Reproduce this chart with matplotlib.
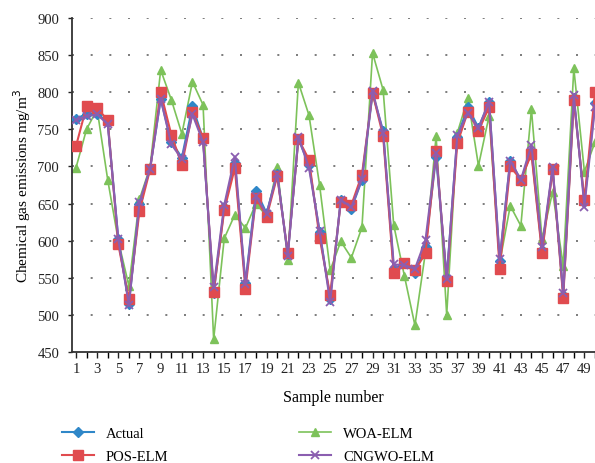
import matplotlib
matplotlib.use("Agg")
import matplotlib.pyplot as plt
import numpy as np

samples = list(range(1, 51))
actual = [764, 771, 771, 760, 602, 515, 650, 697, 791, 733,
          712, 781, 737, 529, 645, 705, 543, 667, 637, 690,
          582, 737, 702, 612, 522, 655, 643, 682, 798, 748,
          562, 570, 557, 592, 713, 550, 740, 780, 752, 787,
          573, 708, 681, 720, 587, 697, 527, 792, 652, 785]
pos_elm = [727, 781, 779, 762, 595, 521, 640, 696, 800, 743,
           702, 773, 738, 531, 641, 698, 535, 658, 632, 687,
           583, 737, 709, 604, 527, 652, 648, 689, 799, 741,
           556, 570, 560, 583, 721, 545, 731, 774, 748, 780,
           562, 700, 682, 717, 583, 696, 523, 789, 655, 800]
woa_elm = [698, 750, 777, 682, 600, 539, 656, 699, 830, 790,
           744, 814, 783, 467, 603, 635, 617, 650, 633, 699,
           574, 813, 769, 675, 560, 599, 577, 618, 853, 803,
           621, 553, 486, 585, 741, 500, 745, 792, 701, 768,
           570, 647, 620, 777, 602, 666, 566, 832, 693, 733]
cngwo_elm = [762, 768, 770, 757, 602, 513, 652, 697, 791, 730,
             710, 770, 733, 537, 648, 713, 542, 660, 636, 690,
             580, 740, 698, 613, 517, 655, 645, 683, 802, 745,
             568, 567, 562, 601, 718, 548, 742, 772, 752, 787,
             575, 708, 682, 729, 592, 699, 529, 796, 646, 780]

c_act = "#2f87c8"
c_pos = "#e04b4f"
c_woa = "#7dc25a"
c_cng = "#8b5eb0"

plt.rcParams['font.family'] = ['Liberation Serif', 'DejaVu Serif']

fig = plt.figure(figsize=(5.95, 4.64), dpi=100)
ax = fig.add_axes([71.7/595, 1-353/464, 1-71.7/595, (353-19)/464])

ax.plot(samples, actual, color=c_act, marker='D', markersize=5, lw=1.5, label='Actual', zorder=3)
ax.plot(samples, pos_elm, color=c_pos, marker='s', markersize=6.5, lw=1.5, label='POS-ELM', zorder=3)
ax.plot(samples, woa_elm, color=c_woa, marker='^', markersize=6, lw=1.2, label='WOA-ELM', zorder=2)
ax.plot(samples, cngwo_elm, color=c_cng, marker='x', markersize=6, mew=1.3, lw=1.5, label='CNGWO-ELM', zorder=4)

ax.set_xlim(0.6, 50.0)
ax.set_ylim(450, 900)
ax.set_yticks(np.arange(450, 901, 50))
ax.set_xticks(range(1, 50, 2))
ax.set_xticks(range(1, 51), minor=True)
ax.yaxis.grid(True, linestyle=(0, (1.2, 10)), color='#666666', linewidth=1.2)
ax.set_axisbelow(True)
for s in ['top', 'right']:
    ax.spines[s].set_visible(False)
for s in ['left', 'bottom']:
    ax.spines[s].set_color('#333333')
    ax.spines[s].set_linewidth(1.3)
ax.tick_params(axis='both', labelsize=10.5, colors='#222222')
ax.tick_params(axis='x', which='both', length=4, width=1, direction='out')
ax.tick_params(axis='y', length=3, width=1, pad=6)
ax.set_xlabel('Sample number', fontsize=11.5, labelpad=10)
ax.set_ylabel('Chemical gas emissions mg/m$^3$', fontsize=11, labelpad=3)

fig.legend(loc='lower left', bbox_to_anchor=(56/595, -0.012), borderaxespad=0, ncol=2, frameon=False,
           fontsize=10.5, handlelength=2.2, columnspacing=9.0, labelspacing=0.65)

fig.savefig('out.png', dpi=100)
